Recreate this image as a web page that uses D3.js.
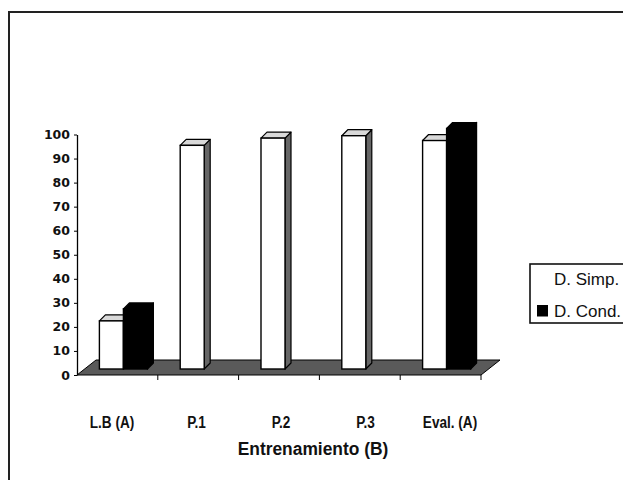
<!DOCTYPE html>
<html><head><meta charset="utf-8">
<script src="https://cdn.jsdelivr.net/npm/d3@7"></script>
<style>body{margin:0;background:#fff}</style>
</head><body><svg id="c" width="623" height="480"></svg>
<script>
const categories = ["L.B (A)", "P.1", "P.2", "P.3", "Eval. (A)"];
const seriesNames = ["D. Simp.", "D. Cond."];
const simpValues = [20, 93, 96, 97, 95];
const condValues = [25, null, null, null, 100];
const yTicks = [0, 10, 20, 30, 40, 50, 60, 70, 80, 90, 100];
const xTitle = "Entrenamiento (B)";

const svg = d3.select("#c");
svg.append("rect").attr("width", 623).attr("height", 480).attr("fill", "#fff");
// frame
svg.append("path").attr("d", "M9,480V12H623").attr("fill", "none").attr("stroke", "#222").attr("stroke-width", 2);

const x = d3.scaleBand().domain(categories).range([77, 481]);
const xs = d3.scaleBand().domain(seriesNames).range([16.4, 64.4]);
const y = d3.scaleLinear().domain([0, 100]).range([375, 134.5]);
const xl = d3.scalePoint().domain(categories).range([112, 450]);

const fx = 6, fy = -6;   // bar front-face offset
const d = 6;             // bar depth
const flx = 19, fly = -15; // floor depth

// floor
const [x0, x1] = x.range();
svg.append("polygon")
  .attr("points", [[x0, y(0)], [x0 + flx, y(0) + fly], [x1 + flx, y(0) + fly], [x1, y(0)]].map(p => p.join(",")).join(" "))
  .attr("fill", "#5a5a5a").attr("stroke", "#000").attr("stroke-width", 1);

// bars
const rows = categories.map((c, i) => ({ c, vals: [simpValues[i], condValues[i]] }));
const colors = { "D. Simp.": { front: "#fff", side: "#666", top: "#d9d9d9" }, "D. Cond.": { front: "#000", side: "#000", top: "#000" } };
rows.forEach(r => {
  r.vals.forEach((v, j) => {
    if (v == null) return;
    const s = seriesNames[j];
    const bx0 = x(r.c) + xs(s) + fx, bx1 = bx0 + xs.bandwidth();
    const yb = y(0) + fy, yt = y(v) + fy;
    const g = svg.append("g");
    const col = colors[s];
    g.append("polygon").attr("points", [[bx1, yt], [bx1 + d, yt - d], [bx1 + d, yb - d], [bx1, yb]].map(p => p.join(",")).join(" "))
      .attr("fill", col.side).attr("stroke", "#000").attr("stroke-width", 1.2).attr("stroke-linejoin", "round");
    g.append("polygon").attr("points", [[bx0, yt], [bx0 + d, yt - d], [bx1 + d, yt - d], [bx1, yt]].map(p => p.join(",")).join(" "))
      .attr("fill", col.top).attr("stroke", "#000").attr("stroke-width", 1.2).attr("stroke-linejoin", "round");
    g.append("rect").attr("x", bx0).attr("y", yt).attr("width", bx1 - bx0).attr("height", yb - yt)
      .attr("fill", col.front).attr("stroke", "#000").attr("stroke-width", 1.4);
  });
});

// y axis
const ya = svg.append("g").attr("transform", "translate(77,0)")
  .call(d3.axisLeft(y).tickValues(yTicks).tickSize(3).tickSizeOuter(0).tickPadding(4));
ya.select(".domain").attr("stroke", "#000").attr("stroke-width", 1.3);
ya.selectAll(".tick line").attr("stroke", "#000");
ya.selectAll("text").attr("font-family", "DejaVu Sans").attr("font-weight", "bold").attr("font-size", 12.5).attr("fill", "#111");

// x ticks at category boundaries
svg.append("g").selectAll("line").data(categories).join("line")
  .attr("x1", c => x(c) + x.bandwidth()).attr("x2", c => x(c) + x.bandwidth())
  .attr("y1", y(0)).attr("y2", y(0) + 5).attr("stroke", "#000").attr("stroke-width", 1);

// x labels (condensed)
svg.append("g").selectAll("text").data(categories).join("text")
  .attr("transform", c => `translate(${xl(c)},428) scale(0.8,1)`).attr("text-anchor", "middle")
  .attr("font-family", "Liberation Sans, Arial, sans-serif").attr("font-weight", "bold")
  .attr("font-size", 17).attr("fill", "#111").text(c => c);

svg.append("text").attr("transform", "translate(313,455) scale(0.94,1)").attr("text-anchor", "middle")
  .attr("font-family", "Liberation Sans, Arial, sans-serif").attr("font-weight", "bold")
  .attr("font-size", 18.5).attr("fill", "#111").text(xTitle);

// legend
const lg = svg.append("g");
lg.append("rect").attr("x", 530).attr("y", 264).attr("width", 130).attr("height", 59)
  .attr("fill", "#fff").attr("stroke", "#111").attr("stroke-width", 1.6);
const ly = d3.scalePoint().domain(seriesNames).range([284.5, 316.5]);
lg.selectAll("rect.sw").data(seriesNames).join("rect").attr("class", "sw")
  .attr("x", 537).attr("y", s => ly(s) - 11.5).attr("width", 11).attr("height", 11.5)
  .attr("fill", s => colors[s].front);
lg.selectAll("text").data(seriesNames).join("text")
  .attr("x", 554).attr("y", s => ly(s))
  .attr("font-family", "Liberation Sans, Arial, sans-serif").attr("font-size", 17).attr("fill", "#111")
  .text(s => s);
</script></body></html>
